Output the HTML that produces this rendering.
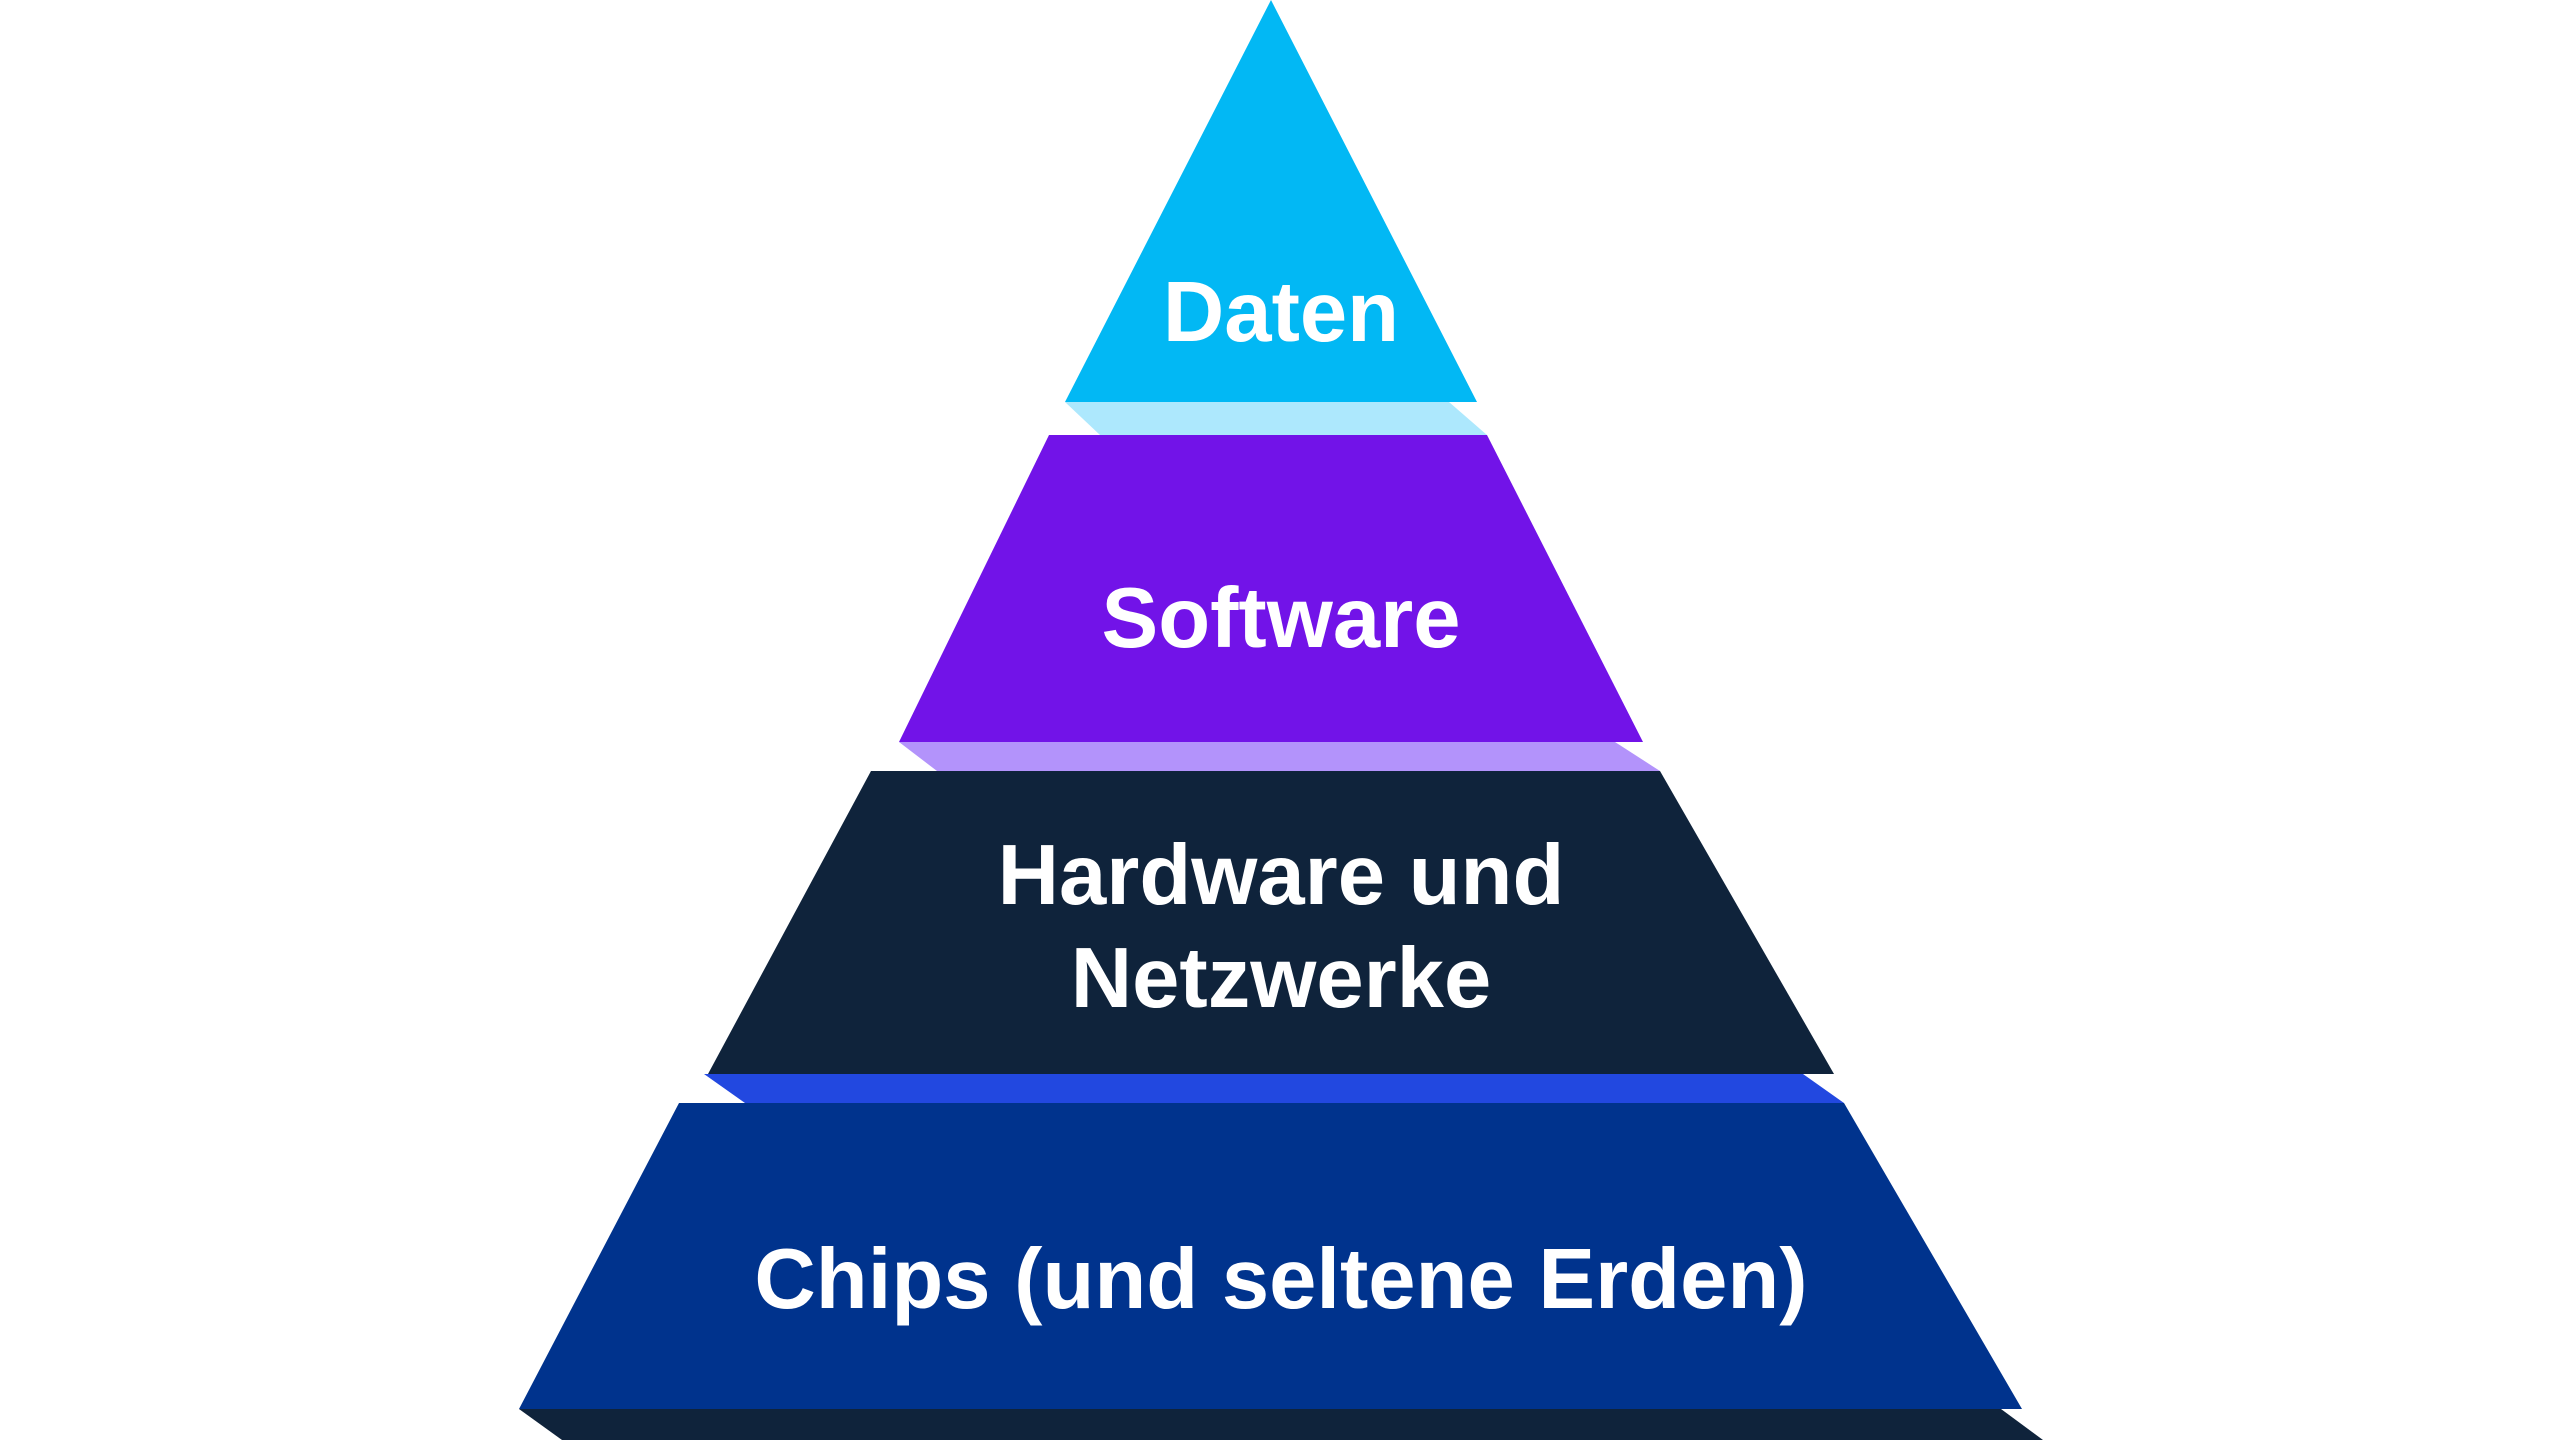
<!DOCTYPE html>
<html><head><style>
html,body{margin:0;padding:0;background:#fff;width:2560px;height:1440px;overflow:hidden}
svg text{font-family:"Liberation Sans",Arial,sans-serif;font-weight:bold;fill:#fff;text-anchor:middle;font-size:85px}
</style></head><body>
<svg width="2560" height="1440" viewBox="0 0 2560 1440">
<!-- shadows -->
<polygon points="1065,402 1449,402 1487,435 1100,435" fill="#ade8fd"/>
<polygon points="899,742 1615,742 1660,771 937,771" fill="#b393fb"/>
<polygon points="704,1074 1803,1074 1844,1103 745,1103" fill="#2248e0"/>
<polygon points="519,1409 2001,1409 2043,1440 562,1440" fill="#0f233b"/>
<!-- tiers -->
<polygon points="1271,0 1477,402 1065,402" fill="#02b8f4"/>
<polygon points="1049,435 1487,435 1643,742 899,742" fill="#7213e8"/>
<polygon points="871,771 1660,771 1834,1074 708,1074" fill="#0f233b"/>
<polygon points="679,1103 1844,1103 2022,1409 519,1409" fill="#00338d"/>
<text x="1281" y="341">Daten</text>
<text x="1281" y="647">Software</text>
<text x="1281" y="904">Hardware und</text>
<text x="1281" y="1007">Netzwerke</text>
<text x="1281" y="1308">Chips (und seltene Erden)</text>
</svg>
</body></html>
